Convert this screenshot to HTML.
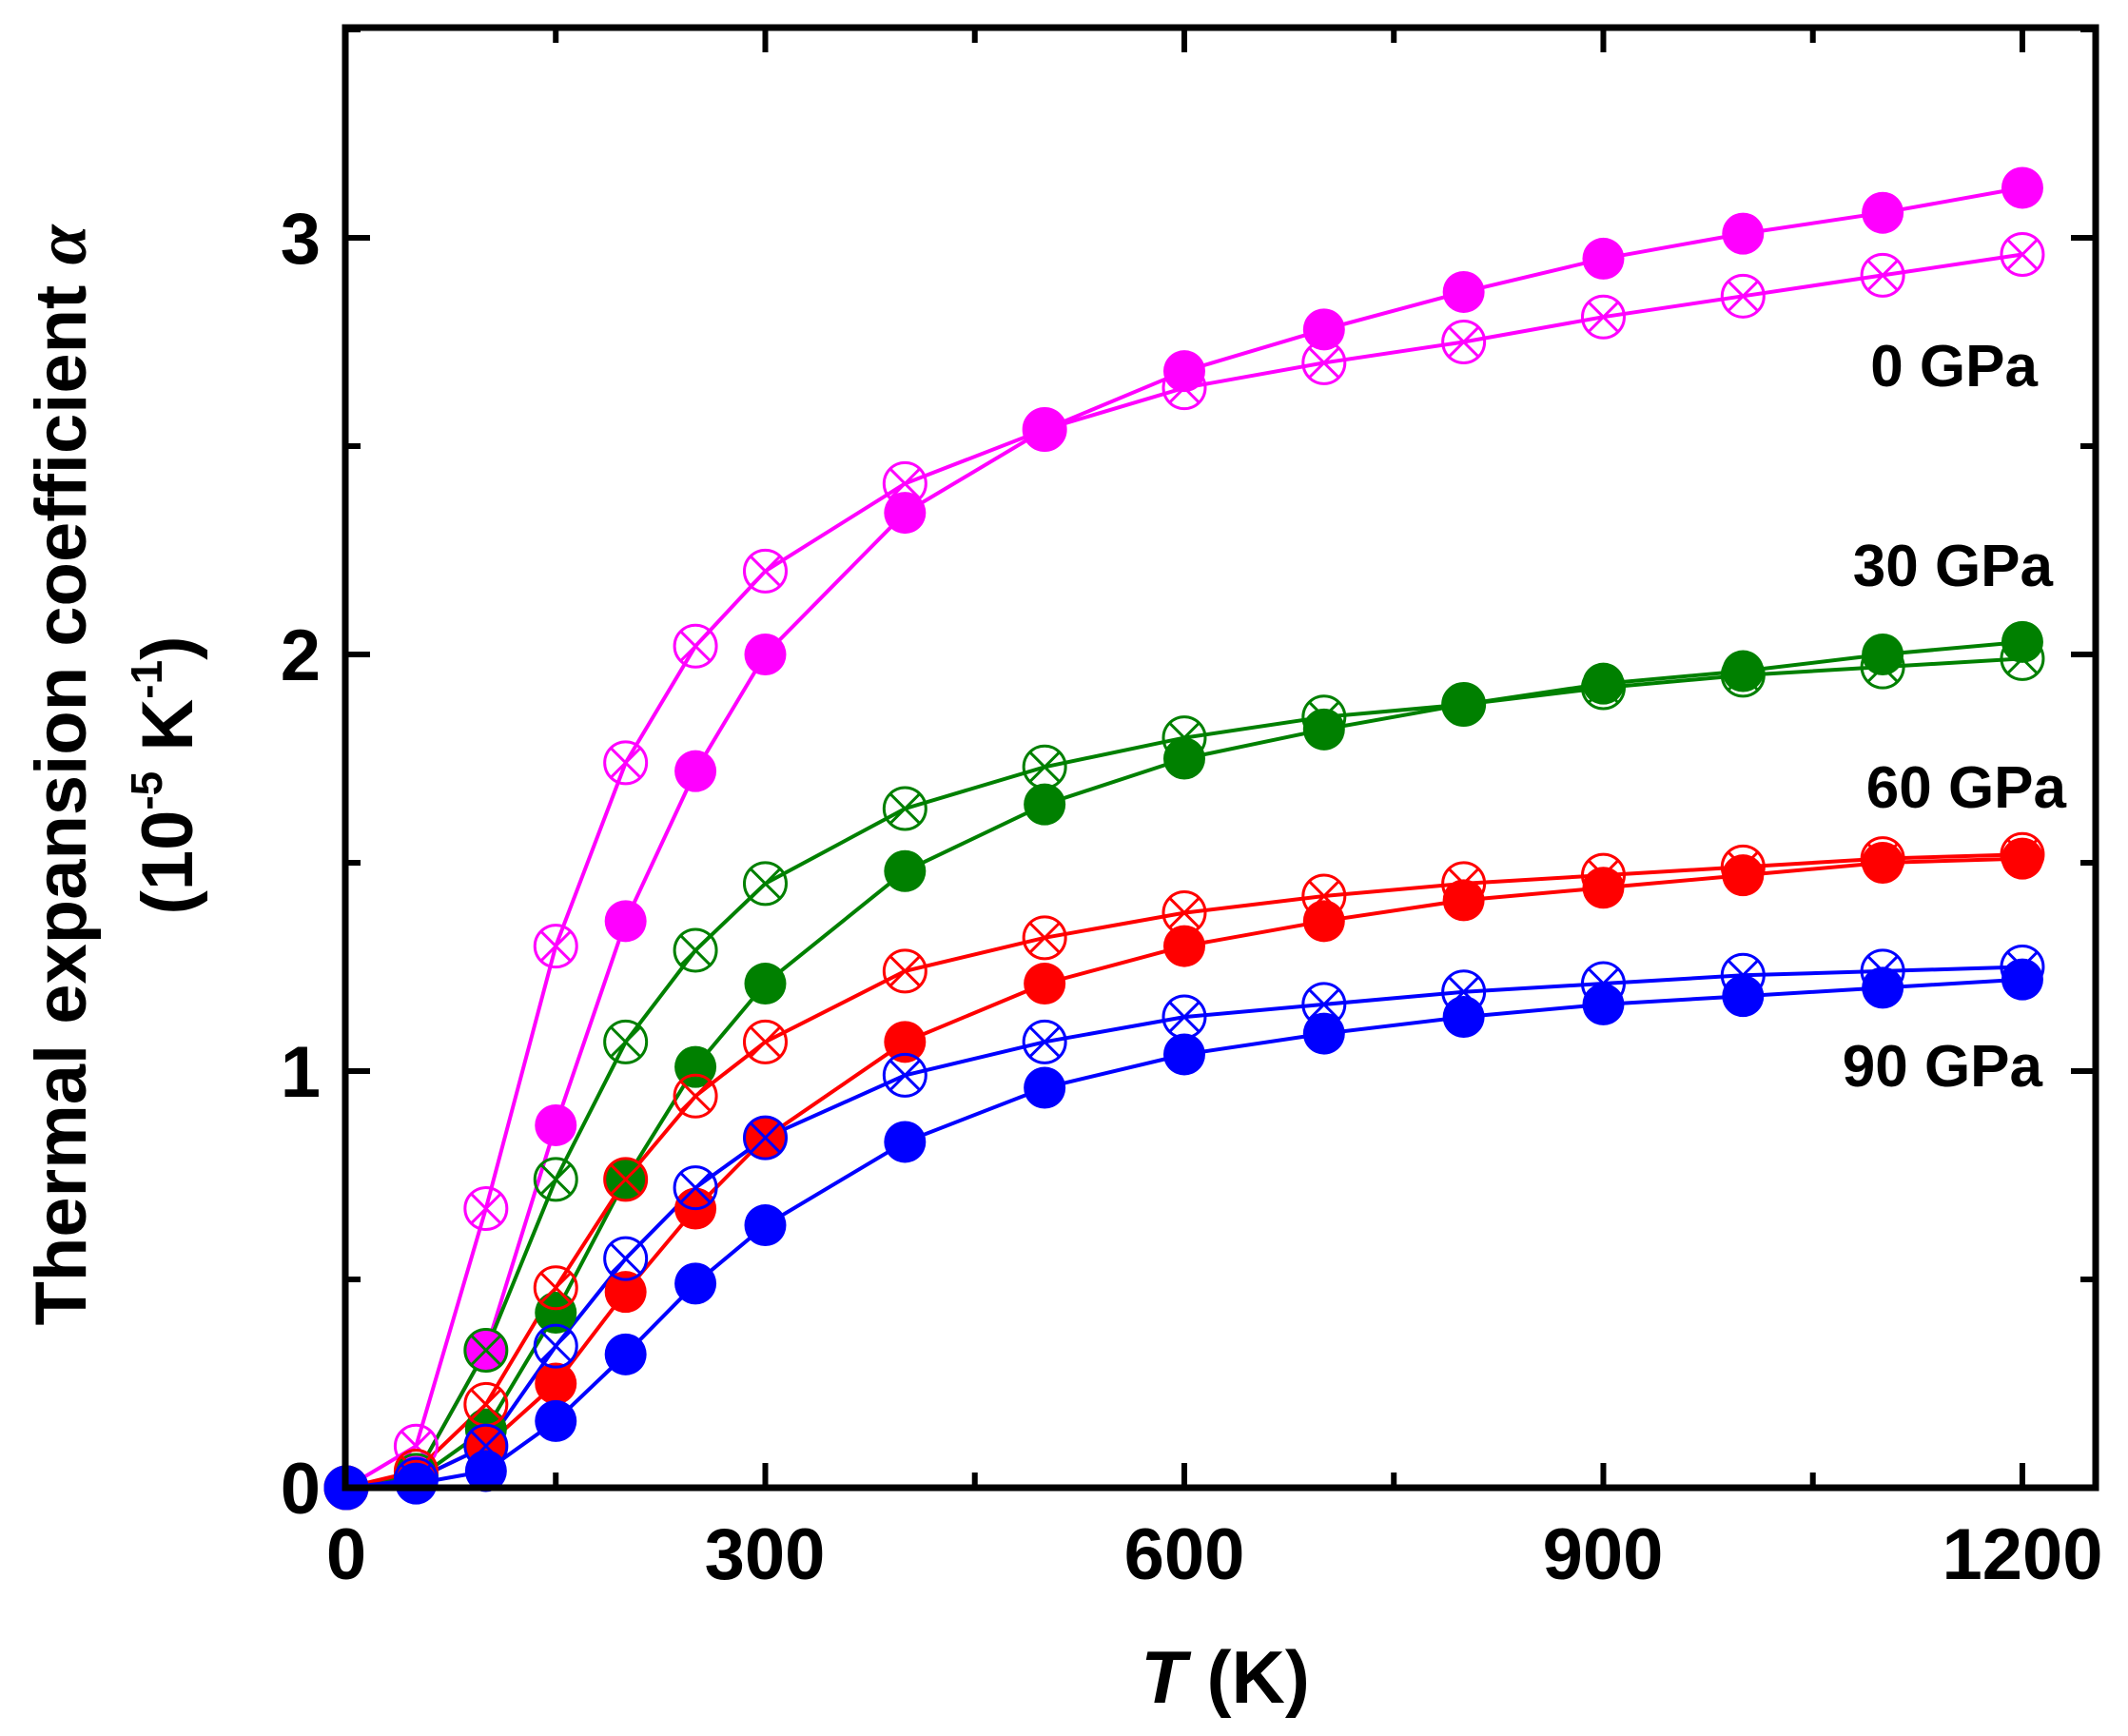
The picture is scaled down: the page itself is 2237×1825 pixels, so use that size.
<!DOCTYPE html>
<html><head><meta charset="utf-8"><style>
html,body{margin:0;padding:0;background:#fff;}
svg{display:block;font-family:"Liberation Sans",Arial,sans-serif;font-weight:bold;}
</style></head><body>
<svg id="s" width="2237" height="1825" viewBox="0 0 2237 1825" xmlns="http://www.w3.org/2000/svg">
<g id="data"></g>
<rect x="363" y="29" width="1840" height="1535" fill="none" stroke="#000" stroke-width="7"/>
<g id="ticks" stroke="#000" stroke-width="6"></g>
<g font-size="76" text-anchor="end">
<text x="337" y="1591">0</text>
<text x="337" y="1153">1</text>
<text x="337" y="715">2</text>
<text x="337" y="277">3</text>
</g>
<g font-size="76" text-anchor="middle">
<text x="364" y="1660">0</text>
<text x="804" y="1660">300</text>
<text x="1245" y="1660">600</text>
<text x="1685" y="1660">900</text>
<text x="2126" y="1660">1200</text>
</g>
<text x="1288" y="1790" font-size="78" text-anchor="middle"><tspan font-style="italic">T</tspan> (K)</text>
<text transform="translate(90,815) rotate(-90)" font-size="76" text-anchor="middle">Thermal expansion coefficient <tspan font-style="italic" font-family="Liberation Serif,serif">α</tspan></text>
<text transform="translate(202,815) rotate(-90)" font-size="76" text-anchor="middle">(10<tspan font-size="46" dy="-32">-5</tspan><tspan dy="32"> K</tspan><tspan font-size="46" dy="-32">-1</tspan><tspan dy="32">)</tspan></text>
<g font-size="62" text-anchor="end">
<text x="2142" y="406">0 GPa</text>
<text x="2158" y="616">30 GPa</text>
<text x="2172" y="849">60 GPa</text>
<text x="2147" y="1142">90 GPa</text>
</g>
</svg>
<script>
var X=function(t){return 364+t*1.4683;},Y=function(v){return 1564-v*438;};
var T=[0,50,100,150,200,250,300,400,500,600,700,800,900,1000,1100,1200];
var S=[
['#ff00ff',0,[0,0.03,0.33,0.87,1.36,1.72,2.0,2.34,2.54,2.68,2.78,2.87,2.95,3.01,3.06,3.12]],
['#ff00ff',1,[0,0.1,0.67,1.3,1.74,2.02,2.2,2.41,2.54,2.64,2.7,2.75,2.81,2.86,2.91,2.96]],
['#008000',0,[0,0.02,0.14,0.42,0.74,1.01,1.21,1.48,1.64,1.75,1.82,1.88,1.93,1.96,2.0,2.03]],
['#008000',1,[0,0.03,0.33,0.74,1.07,1.29,1.45,1.63,1.73,1.8,1.85,1.88,1.92,1.95,1.97,1.99]],
['#ff0000',0,[0,0.02,0.1,0.25,0.47,0.67,0.84,1.07,1.21,1.3,1.36,1.41,1.44,1.47,1.5,1.51]],
['#ff0000',1,[0,0.04,0.2,0.48,0.74,0.94,1.07,1.24,1.32,1.38,1.42,1.45,1.47,1.49,1.51,1.52]],
['#0000ff',0,[0,0.01,0.04,0.16,0.32,0.49,0.63,0.83,0.96,1.04,1.09,1.13,1.16,1.18,1.2,1.22]],
['#0000ff',1,[0,0.02,0.1,0.34,0.55,0.72,0.84,0.99,1.07,1.13,1.16,1.19,1.21,1.23,1.24,1.25]]];
var h='';
S.forEach(function(s){var p=T.map(function(t,i){return X(t).toFixed(1)+','+Y(s[2][i]).toFixed(1)}).join(' ');
h+='<polyline points="'+p+'" fill="none" stroke="'+s[0]+'" stroke-width="4"/>';});
S.forEach(function(s){T.forEach(function(t,i){var x=X(t),y=Y(s[2][i]),r=22;
if(s[1]==0)h+='<circle cx="'+x+'" cy="'+y+'" r="'+r+'" fill="'+s[0]+'"/>';
else{var d=r*0.72;h+='<circle cx="'+x+'" cy="'+y+'" r="'+r+'" fill="none" stroke="'+s[0]+'" stroke-width="3"/><path d="M'+(x-d)+','+(y-d)+'L'+(x+d)+','+(y+d)+'M'+(x-d)+','+(y+d)+'L'+(x+d)+','+(y-d)+'" stroke="'+s[0]+'" stroke-width="3"/>';}});});
document.getElementById('data').innerHTML=h;
var k='';
for(var t=150;t<1250;t+=150){var x=X(t),L=(t%300==0)?26:16;
k+='<line x1="'+x+'" y1="1564" x2="'+x+'" y2="'+(1564-L)+'"/><line x1="'+x+'" y1="29" x2="'+x+'" y2="'+(29+L)+'"/>';}
for(var v=0.5;v<3.6;v+=0.5){var y=Y(v),L=(v%1==0)?26:16;
k+='<line x1="363" y1="'+y+'" x2="'+(363+L)+'" y2="'+y+'"/><line x1="2203" y1="'+y+'" x2="'+(2203-L)+'" y2="'+y+'"/>';}
document.getElementById('ticks').innerHTML=k;
</script>
</body></html>
